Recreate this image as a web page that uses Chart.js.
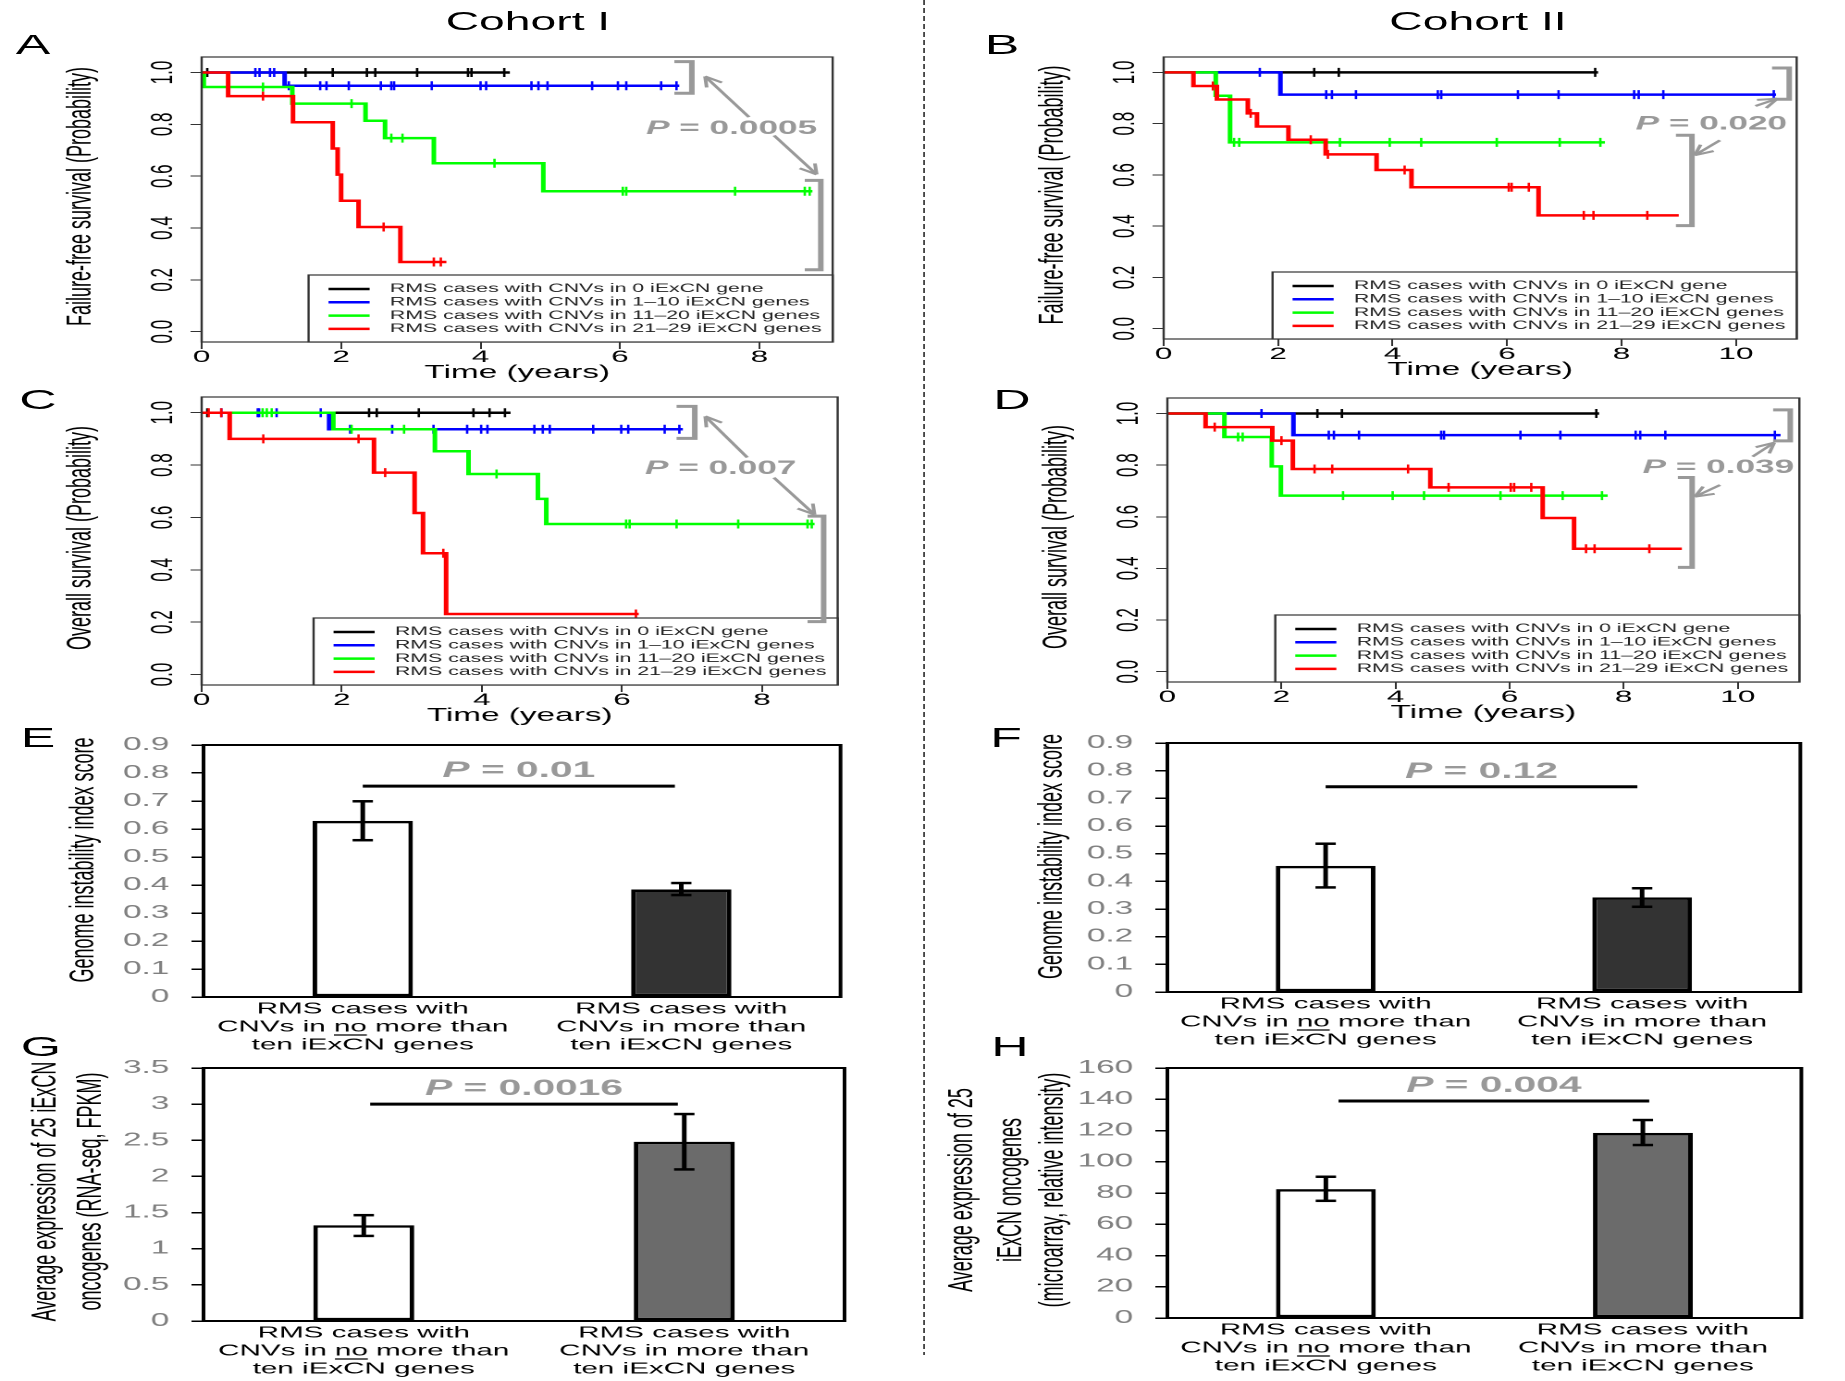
<!DOCTYPE html>
<html>
<head>
<meta charset="utf-8">
<script src="https://cdn.jsdelivr.net/npm/chart.js@4.4.1/dist/chart.umd.min.js"></script>
<style>
  html, body { margin:0; padding:0; background:#fff; overflow:hidden; width:1845px; height:1381px; }
  #fig { position:absolute; left:0; top:0; height:1381px; transform-origin:0 0; font-family:"Liberation Sans", Arial, sans-serif; }
  #fig canvas { position:absolute; }
  .lbl { position:absolute; white-space:nowrap; transform:translate(-50%,-50%); color:#000; line-height:1; }
  .divider { position:absolute; width:1px; background:repeating-linear-gradient(to bottom,#444 0 5px,transparent 5px 8px); }
</style>
</head>
<body>
<div id="fig"></div>
<script>
// ---------- data ----------
const KM_LEGEND = ['RMS cases with CNVs in 0 iExCN gene', 'RMS cases with CNVs in 1\u201310 iExCN genes',
  'RMS cases with CNVs in 11\u201320 iExCN genes', 'RMS cases with CNVs in 21\u201329 iExCN genes'];
const KM_COLORS = ['#000000', '#0000ff', '#00ff00', '#ff0000'];
const KM_Y_TICKS = [0, 0.2, 0.4, 0.6, 0.8, 1.0];
const X_TICKS_I = [0, 2, 4, 6, 8];
const X_TICKS_II = [0, 2, 4, 6, 8, 10];

// A: failure-free survival, cohort I  (event times, survival after each event, censor times)
const A0_evt = [], A0_surv = [];
const A0_cens = [0.08, 1.49, 1.88, 2.37, 2.49, 3.09, 3.82, 3.87, 4.34];
const A1_evt = [1.19], A1_surv = [0.949];
const A1_cens = [0.77, 0.83, 0.98, 1.04, 1.25, 1.70, 1.79, 2.11, 2.57, 2.72, 2.76, 3.30, 4.00, 4.08, 4.73, 4.83, 4.96, 5.60, 5.97, 6.09, 6.59, 6.81];
const A2_evt = [0.03, 1.30, 2.35, 2.63, 3.33, 4.90], A2_surv = [0.944, 0.880, 0.814, 0.747, 0.650, 0.542];
const A2_cens = [0.88, 2.15, 2.72, 2.88, 4.20, 6.04, 6.09, 7.65, 8.65, 8.72];
const A3_evt = [0.38, 1.31, 1.88, 1.95, 2.00, 2.25, 2.85], A3_surv = [0.909, 0.808, 0.707, 0.606, 0.505, 0.404, 0.269];
const A3_cens = [0.88, 2.61, 3.33, 3.43];
const A_end = [4.42, 6.85, 8.76, 3.51];

// B: failure-free survival, cohort II
const B0_evt = [], B0_surv = [];
const B0_cens = [2.63, 3.06, 7.54];
const B1_evt = [2.04], B1_surv = [0.913];
const B1_cens = [1.68, 2.84, 2.94, 3.36, 4.79, 4.85, 6.19, 6.90, 8.22, 8.30, 8.73, 10.66];
const B2_evt = [0.91, 1.16], B2_surv = [0.909, 0.727];
const B2_cens = [1.23, 1.32, 3.08, 3.95, 4.50, 5.82, 6.92, 7.63];
const B3_evt = [0.52, 0.93, 1.47, 1.63, 2.18, 2.83, 3.72, 4.33, 6.55];
const B3_surv = [0.947, 0.894, 0.840, 0.789, 0.737, 0.680, 0.619, 0.552, 0.442];
const B3_cens = [0.86, 1.52, 2.57, 2.87, 4.21, 6.03, 6.08, 6.38, 7.34, 7.51, 8.45];
const B_end = [7.59, 10.70, 7.71, 9.00];

// C: overall survival, cohort I
const C0_evt = [], C0_surv = [];
const C0_cens = [0.08, 2.39, 2.50, 3.10, 3.88, 4.11, 4.33];
const C1_evt = [1.82], C1_surv = [0.937];
const C1_cens = [0.28, 0.80, 0.82, 1.07, 1.70, 2.12, 2.72, 3.31, 3.79, 3.99, 4.08, 4.75, 4.87, 4.97, 5.59, 5.99, 6.09, 6.61, 6.82];
const C2_evt = [1.88, 3.33, 3.81, 4.80, 4.92], C2_surv = [0.937, 0.853, 0.766, 0.671, 0.575];
const C2_cens = [0.87, 0.93, 1.00, 2.14, 2.89, 4.21, 6.06, 6.11, 6.78, 7.66, 8.65, 8.71];
const C3_evt = [0.40, 2.46, 3.04, 3.16, 3.49], C3_surv = [0.900, 0.771, 0.617, 0.463, 0.231];
const C3_cens = [0.10, 0.28, 0.88, 2.24, 2.62, 3.45, 6.20];
const C_end = [4.41, 6.87, 8.75, 6.24];

// D: overall survival, cohort II
const D0_evt = [], D0_surv = [];
const D0_cens = [2.63, 3.06, 7.52];
const D1_evt = [2.21], D1_surv = [0.916];
const D1_cens = [1.65, 2.83, 2.92, 3.36, 4.80, 4.85, 6.19, 6.89, 8.21, 8.29, 8.73, 10.65];
const D2_evt = [1.00, 1.83, 1.99], D2_surv = [0.909, 0.795, 0.682];
const D2_cens = [1.24, 1.32, 3.08, 3.95, 4.50, 5.84, 6.93, 7.62];
const D3_evt = [0.67, 1.84, 2.20, 4.61, 6.58, 7.13], D3_surv = [0.947, 0.895, 0.785, 0.714, 0.595, 0.476];
const D3_cens = [0.83, 2.00, 2.58, 2.89, 4.22, 4.93, 6.02, 6.08, 6.38, 7.34, 7.49, 8.45];
const D_end = [7.57, 10.75, 7.72, 9.02];

// log-rank annotations: brackets [x0,x1,yTop,yBottom], arrows [x0,y0,x1,y1], P label [x,y,text]
const A_br = [[6.78, 7.03, 1.042, 0.92], [8.65, 8.88, 0.584, 0.239]];
const A_arr = [[7.85, 0.828, 7.22, 0.985], [8.21, 0.757, 8.82, 0.607]];
const A_p = [7.6, 0.783, '0.0005'];
const B_br = [[10.63, 10.93, 1.017, 0.895], [8.95, 9.23, 0.755, 0.402]];
const B_arr = [[10.34, 0.869, 10.72, 0.897], [9.72, 0.735, 9.28, 0.677]];
const B_p = [9.57, 0.798, '0.020'];
const C_br = [[6.78, 7.04, 1.024, 0.902], [8.65, 8.88, 0.605, 0.202]];
const C_arr = [[7.79, 0.829, 7.19, 0.986], [8.17, 0.752, 8.75, 0.611]];
const C_p = [7.41, 0.786, '0.007'];
const D_br = [[10.62, 10.92, 1.014, 0.894], [8.95, 9.20, 0.752, 0.404]];
const D_arr = [[10.26, 0.833, 10.64, 0.887], [9.69, 0.723, 9.25, 0.678]];
const D_p = [9.66, 0.79, '0.039'];

// bar panels
const CAT_LABELS = [['RMS cases with', 'CNVs in no more than', 'ten iExCN genes'],
                    ['RMS cases with', 'CNVs in more than', 'ten iExCN genes']];
const E_vals = [0.629, 0.384], E_lo = [0.560, 0.364], E_hi = [0.699, 0.407];
const F_vals = [0.456, 0.342], F_lo = [0.378, 0.308], F_hi = [0.536, 0.375];
const G_vals = [1.325, 2.48], G_lo = [1.177, 2.097], G_hi = [1.464, 2.863];
const H_vals = [82.5, 118.5], H_lo = [75.0, 110.7], H_hi = [90.4, 126.7];
const GII_TICKS = [0, 0.1, 0.2, 0.3, 0.4, 0.5, 0.6, 0.7, 0.8, 0.9];
const G_TICKS = [0, 0.5, 1, 1.5, 2, 2.5, 3, 3.5];
const H_TICKS = [0, 20, 40, 60, 80, 100, 120, 140, 160];
// significance bars: [from category, to category, level, P text]
const E_sig = [0.0, 0.98, 0.753, '0.01'];
const F_sig = [0.0, 0.985, 0.742, '0.12'];
const G_sig = [0.02, 0.98, 3.0, '0.0016'];
const H_sig = [0.04, 1.02, 138.9, '0.004'];

// ---------- layout ----------
const S = 1.85;                       // the whole figure is stretched horizontally
const FONT = '"Liberation Sans", Arial, Helvetica, sans-serif';
Chart.defaults.font.family = FONT;
const fig = document.getElementById('fig');
fig.style.width = (1845 / S) + 'px';
fig.style.transform = 'scaleX(' + S + ')';

function label(text, xFull, y, size, extra) {
  const d = document.createElement('div');
  d.className = 'lbl';
  d.textContent = text;
  d.style.left = (xFull / S) + 'px';
  d.style.top = y + 'px';
  d.style.fontSize = size + 'px';
  if (extra) Object.assign(d.style, extra);
  fig.appendChild(d);
}
label('Cohort I', 528, 21, 25);
label('Cohort II', 1478, 21, 25);
[['A', 33, 45], ['B', 1002, 45], ['C', 38, 400], ['D', 1012, 400],
 ['E', 38, 738], ['F', 1006, 738], ['G', 41, 1047], ['H', 1010, 1047]].forEach(l => label(l[0], l[1], l[2], 28));
const dv = document.createElement('div');
dv.className = 'divider';
dv.style.left = (923 / S) + 'px'; dv.style.top = '0px'; dv.style.height = '1355px';
fig.appendChild(dv);

// plot boxes in full-page pixels [left, top, right, bottom]
function makeCanvas(box, ml, mt, mr, mb) {
  const l = box[0] / S, t = box[1], r = box[2] / S, b = box[3];
  const w = Math.ceil(r - l + ml + mr), h = Math.ceil(b - t + mt + mb);
  const cv = document.createElement('canvas');
  cv.width = w; cv.height = h;
  cv.style.left = (l - ml) + 'px'; cv.style.top = (t - mt) + 'px';
  cv.style.width = w + 'px'; cv.style.height = h + 'px';
  fig.appendChild(cv);
  return { cv, ml, mt, padR: w - ml - (r - l), xh: h - mt - (b - t) };
}

function noPad(s) { s.paddingTop = 0; s.paddingBottom = 0; s.paddingLeft = 0; s.paddingRight = 0; }

function line(ctx, x0, y0, x1, y1) { ctx.beginPath(); ctx.moveTo(x0, y0); ctx.lineTo(x1, y1); ctx.stroke(); }

function pText(ctx, cx, cy, val, size) {
  const fi = 'italic bold ' + size + 'px ' + FONT, fb = 'bold ' + size + 'px ' + FONT;
  ctx.font = fi; const w1 = ctx.measureText('P').width;
  ctx.font = fb; const rest = ' = ' + val; const w2 = ctx.measureText(rest).width;
  const x0 = cx - (w1 + w2) / 2;
  ctx.fillStyle = '#999'; ctx.textAlign = 'left'; ctx.textBaseline = 'middle';
  ctx.font = fi; ctx.fillText('P', x0, cy);
  ctx.font = fb; ctx.fillText(rest, x0 + w1, cy);
}

// ---------- Kaplan-Meier panels ----------
const kmDeco = {
  id: 'kmDeco',
  afterDraw(chart, args, o) {
    const { ctx, chartArea: ca, scales: { x, y } } = chart;
    ctx.save();
    ctx.strokeStyle = '#333'; ctx.lineWidth = 1.2;
    ctx.strokeRect(ca.left, ca.top, ca.right - ca.left, ca.bottom - ca.top);
    // rotated y tick labels
    ctx.fillStyle = '#000'; ctx.textAlign = 'center'; ctx.textBaseline = 'middle';
    ctx.font = '17px ' + FONT;
    KM_Y_TICKS.forEach(v => {
      ctx.save(); ctx.translate(ca.left - 20.5, y.getPixelForValue(v)); ctx.rotate(-Math.PI / 2);
      ctx.fillText(v.toFixed(1), 0, 0); ctx.restore();
    });
    ctx.font = '18px ' + FONT;
    ctx.fillText('Time (years)', (ca.left + ca.right) / 2, ca.bottom + 31);
    ctx.save(); ctx.translate(ca.left - o.yTitleOff, (ca.top + ca.bottom) / 2 - 3); ctx.rotate(-Math.PI / 2);
    ctx.fillText(o.yTitle, 0, 0); ctx.restore();
    // legend, bottom right
    ctx.font = '11.5px ' + FONT;
    const tw = Math.max(...KM_LEGEND.map(t => ctx.measureText(t).width));
    const lw = 44 + tw + 6, lh = 67, lx = ca.right - lw, ly = ca.bottom - lh;
    ctx.fillStyle = '#fff'; ctx.fillRect(lx, ly, lw, lh);
    ctx.strokeStyle = '#333'; ctx.lineWidth = 1.2; ctx.strokeRect(lx, ly, lw, lh);
    KM_LEGEND.forEach((t, i) => {
      const yy = ly + 14 + i * 13.3;
      ctx.strokeStyle = KM_COLORS[i]; ctx.lineWidth = 2.5; line(ctx, lx + 10.8, yy, lx + 33, yy);
      ctx.fillStyle = '#222'; ctx.textAlign = 'left'; ctx.fillText(t, lx + 44, yy);
    });
    // brackets, arrows and P value
    ctx.strokeStyle = '#999'; ctx.lineWidth = 3; ctx.lineJoin = 'miter';
    o.br.forEach(b => {
      const x0 = x.getPixelForValue(b[0]), x1 = x.getPixelForValue(b[1]);
      const y0 = y.getPixelForValue(b[2]), y1 = y.getPixelForValue(b[3]);
      ctx.beginPath(); ctx.moveTo(x0, y0); ctx.lineTo(x1, y0); ctx.lineTo(x1, y1); ctx.lineTo(x0, y1); ctx.stroke();
    });
    ctx.lineWidth = 2;
    o.arr.forEach(a => {
      const x0 = x.getPixelForValue(a[0]), y0 = y.getPixelForValue(a[1]);
      const x1 = x.getPixelForValue(a[2]), y1 = y.getPixelForValue(a[3]);
      line(ctx, x0, y0, x1, y1);
      const ang = Math.atan2(y1 - y0, x1 - x0), L = 11;
      [0.45, -0.45].forEach(d => line(ctx, x1, y1, x1 - L * Math.cos(ang - d), y1 - L * Math.sin(ang - d)));
    });
    pText(ctx, x.getPixelForValue(o.p[0]), y.getPixelForValue(o.p[1]), o.p[2], 19);
    ctx.restore();
  }
};

function survAt(evt, surv, t) {
  let s = 1;
  evt.forEach((e, i) => { if (e <= t) s = surv[i]; });
  return s;
}

function kmChart(box, xMax, xTicks, evts, survs, cens, ends, yTitle, yTitleOff, br, arr, p) {
  const m = makeCanvas(box, 80, 10, 10, 45);
  const datasets = [];
  for (let c = 0; c < 4; c++) {
    const pts = [{ x: 0, y: 1 }];
    evts[c].forEach((t, i) => pts.push({ x: t, y: survs[c][i] }));
    pts.push({ x: ends[c], y: survAt(evts[c], survs[c], ends[c]) });
    datasets.push({ data: pts, stepped: true, borderColor: KM_COLORS[c], borderWidth: 2.5,
      pointRadius: 0, fill: false, order: 2 * (3 - c) + 1 });
    datasets.push({ data: cens[c].map(t => ({ x: t, y: survAt(evts[c], survs[c], t) })), showLine: false,
      pointStyle: 'line', rotation: 90, pointRadius: 4.5, pointBorderWidth: 1.3,
      pointBorderColor: KM_COLORS[c], borderColor: KM_COLORS[c], order: 2 * (3 - c) });
  }
  new Chart(m.cv, {
    type: 'line',
    data: { datasets },
    options: {
      responsive: false, animation: false, devicePixelRatio: 2, events: [],
      layout: { padding: { left: 0, top: m.mt, right: m.padR, bottom: 0 } },
      plugins: { legend: { display: false }, tooltip: { enabled: false },
        kmDeco: { yTitle, yTitleOff, br, arr, p } },
      scales: {
        x: { type: 'linear', min: 0, max: xMax,
          afterBuildTicks: s => { s.ticks = xTicks.map(v => ({ value: v })); },
          afterFit: s => { s.height = m.xh; noPad(s); },
          grid: { display: true, drawOnChartArea: false, drawTicks: true, tickLength: 7, color: '#333', lineWidth: 1 },
          border: { display: false },
          ticks: { color: '#000', font: { size: 17 }, padding: -2, maxRotation: 0, autoSkip: false, callback: v => String(v) } },
        y: { type: 'linear', min: -0.04, max: 1.06,
          afterBuildTicks: s => { s.ticks = KM_Y_TICKS.map(v => ({ value: v })); },
          afterFit: s => { s.width = m.ml; noPad(s); },
          grid: { display: true, drawOnChartArea: false, drawTicks: true, tickLength: 6, color: '#333', lineWidth: 1 },
          border: { display: false },
          ticks: { display: false } }
      }
    },
    plugins: [kmDeco]
  });
}

kmChart([201, 57, 832, 342], 9.05, X_TICKS_I,
  [A0_evt, A1_evt, A2_evt, A3_evt], [A0_surv, A1_surv, A2_surv, A3_surv], [A0_cens, A1_cens, A2_cens, A3_cens], A_end,
  'Failure-free survival (Probability)', 65, A_br, A_arr, A_p);
kmChart([1163, 57, 1796, 339], 11.06, X_TICKS_II,
  [B0_evt, B1_evt, B2_evt, B3_evt], [B0_surv, B1_surv, B2_surv, B3_surv], [B0_cens, B1_cens, B2_cens, B3_cens], B_end,
  'Failure-free survival (Probability)', 59.5, B_br, B_arr, B_p);
kmChart([202, 397, 838, 685], 9.08, X_TICKS_I,
  [C0_evt, C1_evt, C2_evt, C3_evt], [C0_surv, C1_surv, C2_surv, C3_surv], [C0_cens, C1_cens, C2_cens, C3_cens], C_end,
  'Overall survival (Probability)', 65, C_br, C_arr, C_p);
kmChart([1167, 398, 1799, 682], 11.08, X_TICKS_II,
  [D0_evt, D1_evt, D2_evt, D3_evt], [D0_surv, D1_surv, D2_surv, D3_surv], [D0_cens, D1_cens, D2_cens, D3_cens], D_end,
  'Overall survival (Probability)', 59.5, D_br, D_arr, D_p);

// ---------- bar panels ----------
const barDeco = {
  id: 'barDeco',
  afterDatasetsDraw(chart, args, o) {
    const { ctx, scales: { y } } = chart;
    const meta = chart.getDatasetMeta(0);
    ctx.save();
    ctx.strokeStyle = '#000'; ctx.lineWidth = 2.5;
    meta.data.forEach((bar, i) => {
      const yl = y.getPixelForValue(o.lo[i]), yh = y.getPixelForValue(o.hi[i]);
      line(ctx, bar.x, yl, bar.x, yh);
      line(ctx, bar.x - 5.5, yl, bar.x + 5.5, yl);
      line(ctx, bar.x - 5.5, yh, bar.x + 5.5, yh);
    });
    ctx.restore();
  },
  afterDraw(chart, args, o) {
    const { ctx, chartArea: ca, scales: { x, y } } = chart;
    ctx.save();
    ctx.strokeStyle = '#000'; ctx.lineWidth = 2;
    ctx.strokeRect(ca.left, ca.top, ca.right - ca.left, ca.bottom - ca.top);
    // significance bar
    const sy = y.getPixelForValue(o.sig[2]);
    const sx0 = x.getPixelForValue(o.sig[0]), sx1 = x.getPixelForValue(o.sig[1]);
    ctx.lineWidth = 3; line(ctx, sx0, sy, sx1, sy);
    pText(ctx, (sx0 + sx1) / 2, sy - 15, o.sig[3], 22);
    // y title lines
    ctx.fillStyle = '#000'; ctx.textAlign = 'center'; ctx.textBaseline = 'middle';
    ctx.font = '18px ' + FONT;
    o.title.forEach((t, i) => {
      ctx.save(); ctx.translate(ca.left - o.titleOff[i], (ca.top + ca.bottom) / 2 + o.titleDy); ctx.rotate(-Math.PI / 2);
      ctx.fillText(t, 0, 0); ctx.restore();
    });
    // category labels, "no" underlined
    ctx.font = '16px ' + FONT; ctx.lineWidth = 1.2;
    chart.data.labels.forEach((lines, i) => {
      const cx = x.getPixelForValue(i);
      lines.forEach((t, j) => {
        const ly = ca.bottom + 12 + j * 18;
        ctx.textAlign = 'center'; ctx.fillText(t, cx, ly);
        const k = t.indexOf(' no ');
        if (k >= 0) {
          const full = ctx.measureText(t).width, pre = ctx.measureText(t.slice(0, k + 1)).width, nw = ctx.measureText('no').width;
          const ux = cx - full / 2 + pre;
          line(ctx, ux, ly + 8, ux + nw, ly + 8);
        }
      });
    });
    ctx.restore();
  }
};

function barChart(box, vals, lo, hi, ticks, dark, sig, title, titleOff, titleDy) {
  const m = makeCanvas(box, 125, 12, 10, 64);
  new Chart(m.cv, {
    type: 'bar',
    data: { labels: CAT_LABELS, datasets: [{ data: vals, backgroundColor: ['#ffffff', dark], borderColor: '#000',
      borderWidth: 2.5, borderSkipped: false, barPercentage: 0.315, categoryPercentage: 1 }] },
    options: {
      responsive: false, animation: false, devicePixelRatio: 2, events: [],
      layout: { padding: { left: 0, top: m.mt, right: m.padR, bottom: 0 } },
      plugins: { legend: { display: false }, tooltip: { enabled: false },
        barDeco: { lo, hi, sig, title, titleOff, titleDy } },
      scales: {
        x: { afterFit: s => { s.height = m.xh; noPad(s); }, grid: { display: false }, border: { display: false }, ticks: { display: false } },
        y: { min: ticks[0], max: ticks[ticks.length - 1],
          afterBuildTicks: s => { s.ticks = ticks.map(v => ({ value: v })); },
          afterFit: s => { s.width = m.ml; noPad(s); },
          grid: { display: true, drawOnChartArea: false, drawTicks: true, tickLength: 6.5, color: '#000', lineWidth: 1.5 },
          border: { display: false },
          ticks: { color: '#808080', font: { size: 18 }, padding: 12, autoSkip: false, callback: v => String(v) } }
      }
    },
    plugins: [barDeco]
  });
}

barChart([204, 745, 841, 997], E_vals, E_lo, E_hi, GII_TICKS, '#333333', E_sig,
  ['Genome instability index score'], [64.3], -11);
barChart([1167, 743, 1800, 992], F_vals, F_lo, F_hi, GII_TICKS, '#333333', F_sig,
  ['Genome instability index score'], [62], -11);
barChart([204, 1068, 845, 1321], G_vals, G_lo, G_hi, G_TICKS, '#6b6b6b', G_sig,
  ['Average expression of 25 iExCN', 'oncogenes (RNA-seq, FPKM)'], [84.9, 60.5], -3);
barChart([1168, 1068, 1802, 1318], H_vals, H_lo, H_hi, H_TICKS, '#6b6b6b', H_sig,
  ['Average expression of 25', 'iExCN oncogenes', '(microarray, relative intensity)'], [110.3, 83.8, 61.6], -3);
</script>
</body>
</html>
